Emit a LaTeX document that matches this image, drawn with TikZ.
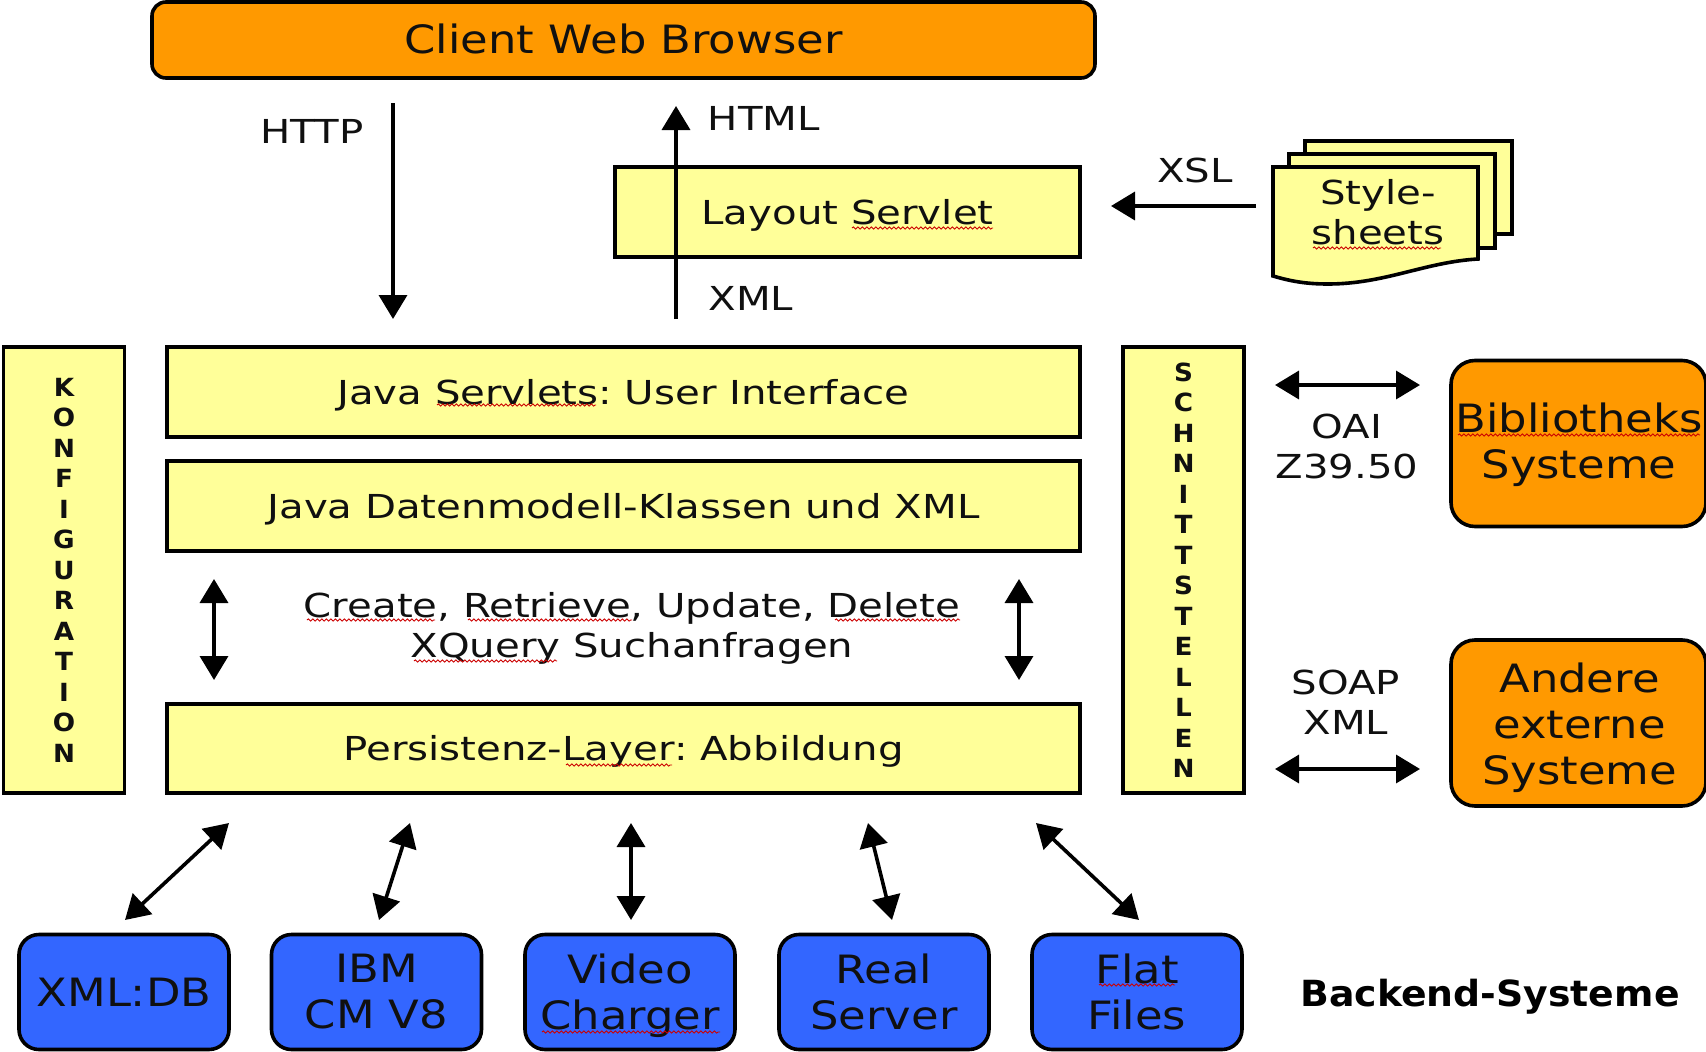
\documentclass[tikz,border=0pt]{standalone}
\usepackage{fontspec}
\setmainfont{DejaVu Sans}
\newfontfamily\wideA[FakeStretch=1.22]{DejaVu Sans}
\newfontfamily\wideB[FakeStretch=1.15]{DejaVu Sans}
\newfontfamily\wideC[FakeStretch=1.05]{DejaVu Sans}
\usetikzlibrary{arrows.meta,decorations.pathmorphing}
\definecolor{paleyellow}{HTML}{FFFF99}
\definecolor{boxorange}{HTML}{FF9900}
\definecolor{boxblue}{HTML}{3366FF}
\definecolor{ink}{HTML}{101010}
\tikzset{
  x=1pt,y=-1pt,
  every node/.style={text=ink,inner sep=0pt,align=center},
  ybox/.style={draw=black,line width=3.6pt,fill=paleyellow,minimum width=#1},
  ybox/.default=913pt,
  obox/.style={draw=black,line width=3.6pt,fill=boxorange,rounded corners=24pt,minimum width=255pt,minimum height=166pt},
  bbox/.style={draw=black,line width=3.6pt,fill=boxblue,rounded corners=20pt,minimum width=210pt,minimum height=115pt},
  doc/.style={draw=black,line width=3.6pt,fill=paleyellow,line join=miter},
  conn/.style={line width=3.6pt,draw=black},
  one/.style={conn,-{Triangle[length=24pt,width=28pt]}},
  two/.style={conn,{Triangle[length=24pt,width=28pt]}-{Triangle[length=24pt,width=28pt]}},
  squig/.style={draw=red!80!black,line width=0.9pt,decorate,decoration={snake,amplitude=1.1pt,segment length=4.5pt}},
  tA/.style={font=\wideA\fontsize{33}{40}\selectfont\frenchspacing},
  tB/.style={font=\wideB\fontsize{39}{46}\selectfont\frenchspacing},
  tC/.style={font=\wideC\fontsize{25}{30.5}\selectfont\bfseries},
  oneline/.style={text height=#1,text depth=0pt},
}
\begin{document}
\begin{tikzpicture}
\useasboundingbox (0,0) rectangle (1706,1052);
% Boxes
\node[obox,rounded corners=14pt,minimum width=943pt,minimum height=76pt,tB,oneline=26pt] (client) at (623.5,40) {Client Web Browser};
\node[ybox=465pt,minimum height=90pt,tA,oneline=24pt] (layout) at (847.5,212) {Layout Servlet};
\node[ybox=121pt,minimum height=446pt,tC] (konfig) at (64,570) {K\\O\\N\\F\\I\\G\\U\\R\\A\\T\\I\\O\\N};
\node[ybox,minimum height=90pt,tA,oneline=25pt] (servlets) at (623.5,392) {Java Servlets: User Interface};
\node[ybox,minimum height=90pt,tA,oneline=24pt] (daten) at (623.5,506) {Java Datenmodell-Klassen und XML};
\node[ybox,minimum height=89pt,tA,oneline=24pt] (persist) at (623.5,748.5) {Persistenz-Layer: Abbildung};
\node[ybox=121pt,minimum height=446pt,tC] (schnitt) at (1183.5,570) {S\\C\\H\\N\\I\\T\\T\\S\\T\\E\\L\\L\\E\\N};
\node[obox] (biblio) at (1578.5,443.5) {};
\node[tB] (bibliotxt) at (1579,445) {Bibliotheks\\Systeme};
\node[obox] (andere) at (1578.5,723) {};
\node[tB] (anderetxt) at (1579.5,727.5) {Andere\\externe\\Systeme};
\node[bbox,tB] (xmldb) at (124,992) {XML:DB};
\node[bbox,tB] (ibm) at (376.5,992) {IBM\\CM V8};
\node[bbox] (video) at (630,992) {};
\node[tB] (videotxt) at (630,996) {Video\\Charger};
\node[bbox,tB] (real) at (884,992) {Real\\Server};
\node[bbox,tB] (flat) at (1137,992) {Flat\\Files};
% Stacked style sheets
\draw[doc] (1305,141) rectangle (1512,234);
\draw[doc] (1289,154) rectangle (1495,248);
\draw[doc] (1273,167) -- (1478,167) -- (1478,259) .. controls (1425,262) and (1385,284) .. (1328,284) .. controls (1305,284) and (1290,281) .. (1273,276) -- cycle;
\node[tA] (sheets) at (1378,212) {Style-\\sheets};
% Labels
\node[tA] (lhttp) at (312,131) {HTTP};
\node[tA] (lhtml) at (764,118) {HTML};
\node[tA] (lxml) at (751,298) {XML};
\node[tA] (lxsl) at (1195,170) {XSL};
\node[tA] (loai) at (1347,446) {OAI\\Z39.50};
\node[tA] (lsoap) at (1346,702) {SOAP\\XML};
\node[tA] (lcrud) at (632,628) {Create, Retrieve, Update, Delete\\XQuery Suchanfragen};
\node[font=\wideC\fontsize{36}{40}\selectfont\bfseries,text=black] (lback) at (1490,997) {Backend-Systeme};
% Connector ends
\coordinate (a1) at (393,103); \coordinate (a2) at (393,319);
\coordinate (b1) at (676,319); \coordinate (b2) at (676,106);
\coordinate (c1) at (1256,206); \coordinate (c2) at (1111,206);
\coordinate (d1) at (1275,385); \coordinate (d2) at (1420,385);
\coordinate (e1) at (1275,769); \coordinate (e2) at (1420,769);
\coordinate (f1) at (214,579); \coordinate (f2) at (214,680);
\coordinate (g1) at (1019,579); \coordinate (g2) at (1019,680);
\coordinate (h1) at (125,920); \coordinate (h2) at (229,823);
\coordinate (i1) at (379,920); \coordinate (i2) at (410,823);
\coordinate (j1) at (631,920); \coordinate (j2) at (631,823);
\coordinate (k1) at (892,920); \coordinate (k2) at (868,823);
\coordinate (l1) at (1139,920); \coordinate (l2) at (1036,823);
\draw[one] (a1) -- (a2);
\draw[one] (b1) -- (b2);
\draw[one] (c1) -- (c2);
\draw[two] (d1) -- (d2);
\draw[two] (e1) -- (e2);
\draw[two] (f1) -- (f2);
\draw[two] (g1) -- (g2);
\draw[two] (h1) -- (h2);
\draw[two] (i1) -- (i2);
\draw[two] (j1) -- (j2);
\draw[two] (k1) -- (k2);
\draw[two] (l1) -- (l2);
% Spelling marks
\draw[squig] (852,228) -- (993,228);
\draw[squig] (1313,248) -- (1441,248);
\draw[squig] (437,405) -- (596,405);
\draw[squig] (307,620) -- (435,620);
\draw[squig] (468,620) -- (632,620);
\draw[squig] (835,620) -- (960,620);
\draw[squig] (414,661) -- (557,661);
\draw[squig] (566,765) -- (672,765);
\draw[squig] (1458,435) -- (1700,435);
\draw[squig] (542,1032) -- (720,1032);
\draw[squig] (1099,985) -- (1175,985);
\end{tikzpicture}
\end{document}
